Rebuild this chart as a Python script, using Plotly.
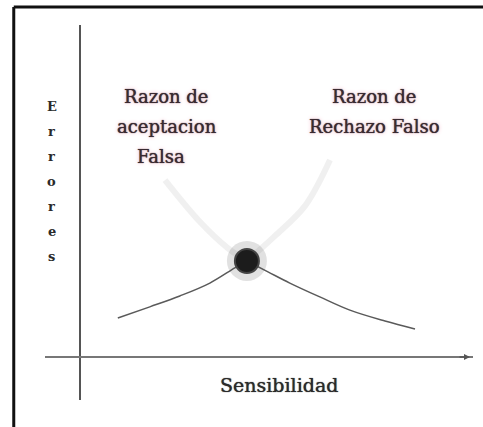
import plotly.graph_objects as go

# Sensitivity (x) vs. error rate (y), arbitrary units
far_faint_x = [2.18, 3.08, 3.79, 4.28]
far_faint_y = [5.36, 4.09, 3.30, 2.91]
far_x = [4.28, 4.82, 5.38, 6.15, 6.92, 7.82, 8.59]
far_y = [2.91, 2.58, 2.24, 1.82, 1.42, 1.09, 0.85]

frr_x = [0.97, 1.79, 2.56, 3.33, 3.97, 4.28]
frr_y = [1.18, 1.52, 1.85, 2.24, 2.70, 2.91]
frr_faint_x = [4.28, 5.00, 5.77, 6.41]
frr_faint_y = [2.91, 3.67, 4.58, 5.97]

# Equal error point (crossover)
eer_x = [4.28]
eer_y = [2.91]

x_title = "Sensibilidad"
y_letters = list("Errores")
far_label = ["Razon de", "aceptacion", "Falsa"]
frr_label = ["Razon de", "Rechazo Falso"]

fig = go.Figure()

faint = dict(color="rgba(120,120,120,0.11)", width=6, shape="spline")
solid = dict(color="#5a5a5a", width=1.5, shape="spline")

fig.add_trace(go.Scatter(x=far_faint_x, y=far_faint_y, mode="lines", line=faint))
fig.add_trace(go.Scatter(x=frr_faint_x, y=frr_faint_y, mode="lines", line=faint))
fig.add_trace(go.Scatter(x=frr_x, y=frr_y, mode="lines", line=solid))
fig.add_trace(go.Scatter(x=far_x, y=far_y, mode="lines", line=solid))
fig.add_trace(go.Scatter(x=eer_x, y=eer_y, mode="markers",
                         marker=dict(size=40, color="rgba(90,90,90,0.18)")))
fig.add_trace(go.Scatter(x=eer_x, y=eer_y, mode="markers",
                         marker=dict(size=24, color="#1c1c1c",
                                     line=dict(width=2, color="#444"))))

label_font = dict(family="DejaVu Serif", size=18, color="#3a2a31",
                  shadow="0px 0px 1px #3a2a31, 0px 0px 4px #f3b3c5")
annotations = []
for i, line in enumerate(far_label):
    annotations.append(dict(x=2.23 - (0.15 if i == 2 else 0), y=7.88 - 0.9 * i,
                            text=line, showarrow=False, font=label_font))
for i, line in enumerate(frr_label):
    annotations.append(dict(x=7.55, y=7.88 - 0.9 * i, text=line,
                            showarrow=False, font=label_font))
for i, ch in enumerate(y_letters):
    annotations.append(dict(x=-0.72, y=7.6 - 0.76 * i, text="<b>" + ch + "</b>",
                            showarrow=False,
                            font=dict(family="DejaVu Serif", size=13,
                                      color="#2a2a2a")))
annotations.append(dict(x=5.1, y=-0.85, text=x_title, showarrow=False,
                        font=dict(family="DejaVu Serif", size=19,
                                  color="#2a2a2a",
                                  shadow="0px 0px 1px #2a2a2a")))
# arrow tip on the sensitivity axis
annotations.append(dict(x=10.0, y=0, ax=-12, ay=0, text="", showarrow=True,
                        arrowhead=2, arrowsize=0.8, arrowwidth=1.5,
                        arrowcolor="#555555"))

frame = dict(color="#111111", width=3)
shapes = [
    dict(type="line", xref="paper", yref="paper", x0=-0.073, x1=1.03,
         y0=1.048, y1=1.048, line=frame),
    dict(type="line", xref="paper", yref="paper", x0=-0.073, x1=-0.073,
         y0=1.048, y1=-0.08, line=frame),
]

fig.update_layout(
    width=483, height=427,
    margin=dict(l=45, r=10, t=25, b=27),
    paper_bgcolor="white", plot_bgcolor="white",
    showlegend=False,
    annotations=annotations,
    shapes=shapes,
    xaxis=dict(range=[-0.897, 10.077], showgrid=False, showticklabels=False,
               ticks="", zeroline=True, zerolinecolor="#555555",
               zerolinewidth=1.5, showline=False, fixedrange=True),
    yaxis=dict(range=[-1.303, 10.06], showgrid=False, showticklabels=False,
               ticks="", zeroline=True, zerolinecolor="#777777",
               zerolinewidth=1.5, showline=False, fixedrange=True),
)

fig.write_html("out.html")
